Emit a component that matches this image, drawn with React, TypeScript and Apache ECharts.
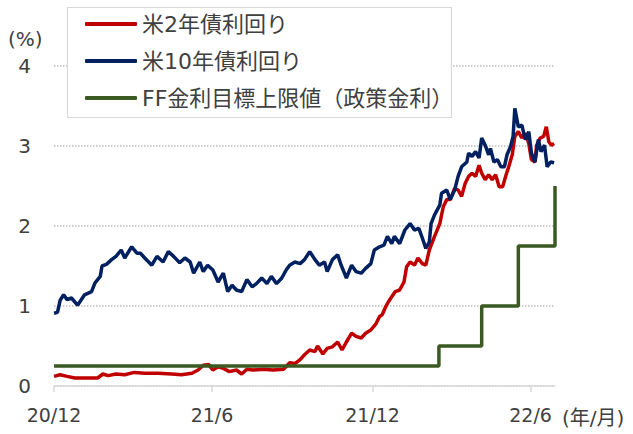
import React, { useEffect, useRef } from "react";
import * as echarts from "echarts";

const FONT = '"DejaVu Sans", "Noto Sans CJK JP", sans-serif';

const tickDates = ["2020-12-31", "2021-06-30", "2021-12-31", "2022-06-30"];
const tickLabels = ["20/12", "21/6", "21/12", "22/6"];
const axisStart = "2020-12-31";
const axisEnd = "2022-07-28";

const dates10y = [
  "2020-12-31", "2021-01-04", "2021-01-07", "2021-01-11", "2021-01-15", "2021-01-20", "2021-01-27",
  "2021-02-04", "2021-02-12", "2021-02-16", "2021-02-22", "2021-02-24", "2021-03-01", "2021-03-07",
  "2021-03-12", "2021-03-18", "2021-03-22", "2021-03-30", "2021-04-05", "2021-04-09", "2021-04-14",
  "2021-04-22", "2021-04-28", "2021-05-05", "2021-05-11", "2021-05-17", "2021-05-24", "2021-05-30",
  "2021-06-05", "2021-06-09", "2021-06-16", "2021-06-20", "2021-06-25", "2021-07-01", "2021-07-07",
  "2021-07-13", "2021-07-18", "2021-07-23", "2021-07-28", "2021-08-03", "2021-08-09", "2021-08-15",
  "2021-08-20", "2021-08-26", "2021-09-01", "2021-09-06", "2021-09-12", "2021-09-18", "2021-09-23",
  "2021-09-27", "2021-10-03", "2021-10-09", "2021-10-14", "2021-10-20", "2021-10-26", "2021-10-31",
  "2021-11-06", "2021-11-09", "2021-11-15", "2021-11-21", "2021-11-25", "2021-12-01", "2021-12-07",
  "2021-12-12", "2021-12-18", "2021-12-23", "2021-12-29", "2022-01-02", "2022-01-08", "2022-01-13",
  "2022-01-17", "2022-01-22", "2022-01-25", "2022-01-31", "2022-02-06", "2022-02-12", "2022-02-17",
  "2022-02-22", "2022-02-26", "2022-03-02", "2022-03-06", "2022-03-08", "2022-03-12", "2022-03-18",
  "2022-03-20", "2022-03-26", "2022-03-30", "2022-04-04", "2022-04-08", "2022-04-12", "2022-04-18",
  "2022-04-20", "2022-04-24", "2022-04-28", "2022-05-02", "2022-05-05", "2022-05-09", "2022-05-13",
  "2022-05-15", "2022-05-19", "2022-05-23", "2022-05-27", "2022-05-31", "2022-06-03", "2022-06-07",
  "2022-06-10", "2022-06-12", "2022-06-16", "2022-06-20", "2022-06-24", "2022-06-28", "2022-07-01",
  "2022-07-05", "2022-07-09", "2022-07-12", "2022-07-16", "2022-07-19", "2022-07-23", "2022-07-27",
];
const yield10y = [
  0.91, 0.92, 1.07, 1.14, 1.08, 1.10, 1.01,
  1.14, 1.18, 1.29, 1.37, 1.50, 1.52, 1.58,
  1.62, 1.70, 1.60, 1.74, 1.66, 1.66, 1.60,
  1.51, 1.62, 1.55, 1.68, 1.62, 1.54, 1.60,
  1.55, 1.41, 1.55, 1.43, 1.51, 1.45, 1.30,
  1.41, 1.18, 1.26, 1.20, 1.18, 1.33, 1.24,
  1.28, 1.35, 1.28, 1.37, 1.28, 1.35, 1.45,
  1.51, 1.55, 1.53, 1.58, 1.68, 1.58, 1.51,
  1.55, 1.43, 1.58, 1.64, 1.51, 1.35, 1.51,
  1.43, 1.41, 1.47, 1.53, 1.70, 1.74, 1.76,
  1.87, 1.78, 1.87, 1.78, 1.95, 2.03, 1.95,
  1.97, 1.85, 1.72, 1.80, 2.03, 2.14, 2.26,
  2.41, 2.45, 2.33, 2.45, 2.62, 2.74, 2.80,
  2.91, 2.87, 2.93, 2.85, 3.10, 3.01, 2.89,
  2.97, 2.80, 2.83, 2.74, 2.74, 2.89, 2.99,
  3.12, 3.47, 3.24, 3.26, 3.08, 3.18, 2.91,
  2.80, 3.08, 2.93, 3.01, 2.74, 2.80, 2.79,
];

const dates2y = [
  "2020-12-31", "2021-01-07", "2021-01-15", "2021-01-24", "2021-02-05", "2021-02-19", "2021-02-25",
  "2021-03-03", "2021-03-12", "2021-03-22", "2021-04-02", "2021-04-14", "2021-04-29", "2021-05-15",
  "2021-05-26", "2021-06-07", "2021-06-14", "2021-06-20", "2021-06-26", "2021-07-01", "2021-07-07",
  "2021-07-13", "2021-07-20", "2021-07-28", "2021-08-03", "2021-08-09", "2021-08-16", "2021-08-28",
  "2021-09-08", "2021-09-20", "2021-09-27", "2021-10-03", "2021-10-09", "2021-10-14", "2021-10-20",
  "2021-10-26", "2021-10-29", "2021-11-04", "2021-11-09", "2021-11-15", "2021-11-21", "2021-11-26",
  "2021-12-01", "2021-12-07", "2021-12-12", "2021-12-18", "2021-12-23", "2021-12-29", "2022-01-04",
  "2022-01-08", "2022-01-11", "2022-01-15", "2022-01-18", "2022-01-21", "2022-01-26", "2022-01-31",
  "2022-02-05", "2022-02-08", "2022-02-12", "2022-02-17", "2022-02-21", "2022-02-26", "2022-03-02",
  "2022-03-06", "2022-03-12", "2022-03-18", "2022-03-22", "2022-03-26", "2022-03-30", "2022-04-04",
  "2022-04-08", "2022-04-12", "2022-04-16", "2022-04-20", "2022-04-24", "2022-04-28", "2022-05-02",
  "2022-05-05", "2022-05-09", "2022-05-13", "2022-05-17", "2022-05-21", "2022-05-25", "2022-05-29",
  "2022-06-02", "2022-06-05", "2022-06-09", "2022-06-12", "2022-06-16", "2022-06-20", "2022-06-24",
  "2022-06-28", "2022-07-01", "2022-07-05", "2022-07-07", "2022-07-11", "2022-07-15", "2022-07-18",
  "2022-07-21", "2022-07-24", "2022-07-27",
];
const yield2y = [
  0.12, 0.14, 0.12, 0.10, 0.10, 0.10, 0.15,
  0.13, 0.15, 0.14, 0.17, 0.16, 0.16, 0.15,
  0.14, 0.16, 0.20, 0.26, 0.27, 0.20, 0.24,
  0.22, 0.18, 0.20, 0.15, 0.21, 0.20, 0.21,
  0.20, 0.21, 0.29, 0.28, 0.33, 0.39, 0.45,
  0.43, 0.50, 0.40, 0.47, 0.49, 0.55, 0.45,
  0.55, 0.66, 0.62, 0.60, 0.66, 0.70, 0.78,
  0.87, 0.89, 0.99, 1.05, 1.10, 1.18, 1.20,
  1.30, 1.49, 1.55, 1.51, 1.60, 1.53, 1.51,
  1.70, 1.87, 2.03, 2.24, 2.33, 2.33, 2.47,
  2.45, 2.37, 2.53, 2.62, 2.66, 2.62, 2.76,
  2.66, 2.58, 2.64, 2.58, 2.64, 2.49, 2.49,
  2.64, 2.74, 2.89, 3.12, 3.18, 3.10, 3.16,
  3.03, 2.83, 2.80, 3.01, 3.10, 3.12, 3.24,
  3.05, 3.01, 3.03,
];

const ffDates = ["2020-12-31", "2022-03-17", "2022-05-05", "2022-06-16", "2022-07-28"];
const ffValues = [0.25, 0.5, 1.0, 1.75, 2.5];

const seriesNames = ["米2年債利回り", "米10年債利回り", "FF金利目標上限値（政策金利）"];
const seriesColors = ["#C00000", "#002060", "#3A5A22"];

const toTime = (s: string) => {
  const [y, m, d] = s.split("-").map(Number);
  return Date.UTC(y, m - 1, d);
};

const pairs = (dates: string[], vals: number[]) => dates.map((d, i) => [toTime(d), vals[i]]);

export default function App() {
  const ref = useRef<HTMLDivElement>(null);

  useEffect(() => {
    if (!ref.current) return;
    const chart = echarts.init(ref.current, null, { renderer: "svg" });
    const tickTimes = tickDates.map(toTime);
    const textColor = "#404040";

    chart.setOption({
      animation: false,
      backgroundColor: "#ffffff",
      textStyle: { fontFamily: FONT },
      grid: { left: 54, right: 78, top: 66, bottom: 48 },
      legend: {
        orient: "vertical",
        left: 85,
        top: 13,
        padding: 0,
        itemWidth: 52,
        itemHeight: 4,
        itemGap: 15,
        icon: "roundRect",
        selectedMode: false,
        z: 10,
        data: seriesNames,
        textStyle: { fontSize: 22, color: textColor, fontFamily: FONT },
      },
      xAxis: {
        type: "value",
        min: toTime(axisStart),
        max: toTime(axisEnd),
        axisLine: { show: true, lineStyle: { color: "#d9d9d9", width: 1.5 } },
        axisTick: {
          show: true,
          length: 6,
          customValues: tickTimes,
          lineStyle: { color: "#d9d9d9", width: 1.5 },
        },
        axisLabel: {
          customValues: tickTimes,
          fontSize: 19,
          color: textColor,
          fontFamily: FONT,
          margin: 19,
          formatter: (v: number) => {
            let best = 0;
            tickTimes.forEach((t, i) => {
              if (Math.abs(t - v) < Math.abs(tickTimes[best] - v)) best = i;
            });
            return tickLabels[best];
          },
        },
        splitLine: { show: false },
      },
      yAxis: {
        type: "value",
        min: 0,
        max: 4,
        interval: 1,
        axisLine: { show: false },
        axisTick: { show: false },
        axisLabel: { fontSize: 20, color: textColor, fontFamily: FONT, margin: 23 },
        splitLine: { lineStyle: { color: "#bfbfbf", type: "dotted", width: 1.5 } },
      },
      graphic: [
        {
          type: "rect",
          z: 3,
          shape: { x: 67.5, y: 7.5, width: 384, height: 110 },
          style: { fill: "#ffffff", stroke: "#d9d9d9", lineWidth: 1.2 },
        },
        {
          type: "text",
          left: 8,
          top: 29,
          style: { text: "(%)", fontSize: 20, fill: textColor, fontFamily: FONT },
        },
        {
          type: "text",
          left: 562,
          top: 408,
          style: { text: "(年/月)", fontSize: 20, fill: textColor, fontFamily: FONT },
        },
      ],
      series: [
        {
          name: seriesNames[0],
          type: "line",
          data: pairs(dates2y, yield2y),
          showSymbol: false,
          lineStyle: { color: seriesColors[0], width: 3.5 },
          itemStyle: { color: seriesColors[0] },
        },
        {
          name: seriesNames[1],
          type: "line",
          data: pairs(dates10y, yield10y),
          showSymbol: false,
          lineStyle: { color: seriesColors[1], width: 3.5 },
          itemStyle: { color: seriesColors[1] },
        },
        {
          name: seriesNames[2],
          type: "line",
          step: "end",
          data: pairs(ffDates, ffValues),
          showSymbol: false,
          lineStyle: { color: seriesColors[2], width: 3.5 },
          itemStyle: { color: seriesColors[2] },
        },
      ],
    });

    return () => chart.dispose();
  }, []);

  return (
    <div
      ref={ref}
      style={{ position: "fixed", left: 0, top: 0, width: 633, height: 434, background: "#fff" }}
    />
  );
}
